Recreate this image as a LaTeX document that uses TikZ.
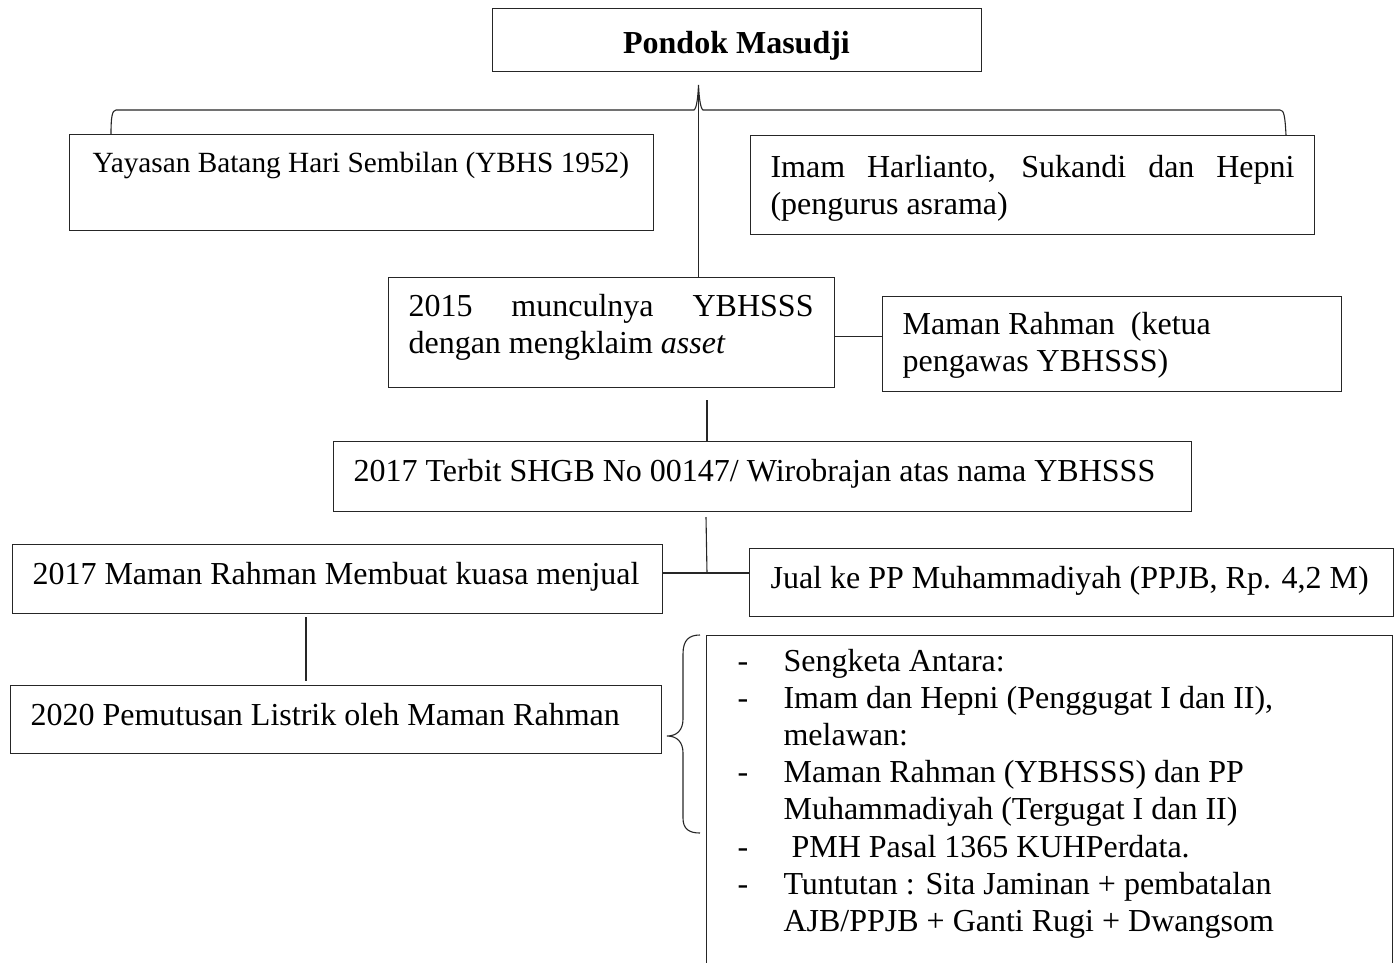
\documentclass[tikz,border=0pt]{standalone}
\usepackage{fontspec}
\setmainfont{Liberation Serif}
\usetikzlibrary{calc}
\begin{document}
\begin{tikzpicture}[x=1pt,y=-1pt,
  line width=1.1pt,
  conn/.style={draw=black!85, line width=1.1pt},
  box/.style={draw=black!85, line width=1.1pt, rectangle, inner sep=0pt, anchor=north west},
  txt/.style={anchor=base west, inner sep=0pt, font=\fontsize{32}{37.2}\selectfont},
  smalltxt/.style={anchor=base west, inner sep=0pt, font=\fontsize{29.3}{34}\selectfont},
  ttl/.style={anchor=base, inner sep=0pt, font=\fontsize{32}{37.2}\selectfont\bfseries}]
\useasboundingbox (0,0) rectangle (1398,962);
\clip (0,0) rectangle (1398,962);

% boxes
\node[box, minimum width=489pt, minimum height=63pt] (pm) at (492,8) {};
\node[box, minimum width=584pt, minimum height=96pt] (yay) at (69,134) {};
\node[box, minimum width=564pt, minimum height=99pt] (imam) at (750,135) {};
\node[box, minimum width=446pt, minimum height=110pt] (b15) at (388,277) {};
\node[box, minimum width=459pt, minimum height=95pt] (mr) at (882,296) {};
\node[box, minimum width=858pt, minimum height=70pt] (terbit) at (333,441) {};
\node[box, minimum width=650pt, minimum height=69pt] (m17) at (12,544) {};
\node[box, minimum width=644pt, minimum height=68pt] (jual) at (749,548) {};
\node[box, minimum width=651pt, minimum height=68pt] (b20) at (10,685) {};
\node[box, minimum width=686pt, minimum height=400pt] (list) at (706,635) {};

% texts
\node[ttl] (tpm) at (736.5,53) {Pondok Masudji};
\node[smalltxt] (tyay) at (92,172) {Yayasan Batang Hari Sembilan (YBHS 1952)};
\node[txt] (timam1) at (770,177) {\makebox[524pt][s]{Imam Harlianto, Sukandi dan Hepni}};
\node[txt] (timam2) at (770,214) {(pengurus asrama)};
\node[txt] (t15a) at (408,316) {\makebox[405pt][s]{2015 munculnya YBHSSS}};
\node[txt] (t15b) at (408,353) {dengan mengklaim \textit{asset}};
\node[txt] (tmr1) at (902,334) {Maman Rahman\ \ (ketua};
\node[txt] (tmr2) at (902,371) {pengawas YBHSSS)};
\node[txt] (tterbit) at (353,481) {2017 Terbit SHGB No 00147/ Wirobrajan atas nama YBHSSS};
\node[txt] (tm17) at (32,584) {2017 Maman Rahman Membuat kuasa menjual};
\node[txt] (tjual) at (770,588) {Jual ke PP Muhammadiyah (PPJB, Rp. 4,2 M)};
\node[txt] (tb20) at (30,725) {2020 Pemutusan Listrik oleh Maman Rahman};

% list
\node[txt] (d1) at (737,671) {-};
\node[txt] (l1) at (783,671) {Sengketa Antara:};
\node[txt] (d2) at (737,708.2) {-};
\node[txt] (l2) at (783,708.2) {Imam dan Hepni (Penggugat I dan II),};
\node[txt] (l3) at (783,745.4) {melawan:};
\node[txt] (d4) at (737,782.6) {-};
\node[txt] (l4) at (783,782.6) {Maman Rahman (YBHSSS) dan PP};
\node[txt] (l5) at (783,819.8) {Muhammadiyah (Tergugat I dan II)};
\node[txt] (d6) at (737,857) {-};
\node[txt] (l6) at (783,857) {\ PMH Pasal 1365 KUHPerdata.};
\node[txt] (d7) at (737,894.2) {-};
\node[txt] (l7) at (783,894.2) {Tuntutan : Sita Jaminan + pembatalan};
\node[txt] (l8) at (783,931.4) {AJB/PPJB + Ganti Rugi + Dwangsom};

% top brace
\coordinate (tip) at (698.5,85);
\draw[conn] (yay.north -| 111,0) .. controls (111,118) and (112,110) .. (116,110)
  -- (694,110) .. controls (697,108) and (698,95) .. (tip)
  .. controls (699,95) and (700,108) .. (703,110)
  -- (1280,110) .. controls (1284,110) and (1285,116) .. (imam.north -| 1286,0);
\draw[conn] (tip) -- (tip |- b15.north);

% connectors
\coordinate (c1) at ($(b15.east)+(0,4)$);
\draw[conn] (c1) -- (c1 -| mr.west);
\coordinate (s1) at (707,400);
\draw[conn] (s1) -- (s1 |- terbit.north);
\coordinate (s2) at (706,517);
\coordinate (j) at (707,573);
\draw[conn] (s2) -- (j);
\draw[conn] (m17.east |- j) -- (jual.west |- j);
\coordinate (s3) at (306,617);
\draw[conn] (s3) -- ($(s3 |- b20.north)+(0,-4)$);

% left brace of the list box
\coordinate (btop) at ($(list.north west)+(-6,0)$);
\draw[conn] (btop) .. controls (689,635) and (683,640) .. (683,654)
  -- (683,719) .. controls (683,730) and (677,736) .. (667,736)
  .. controls (677,736) and (683,742) .. (683,753)
  -- (683,818) .. controls (683,829) and (689,833) .. (700,833);
\end{tikzpicture}
\end{document}
